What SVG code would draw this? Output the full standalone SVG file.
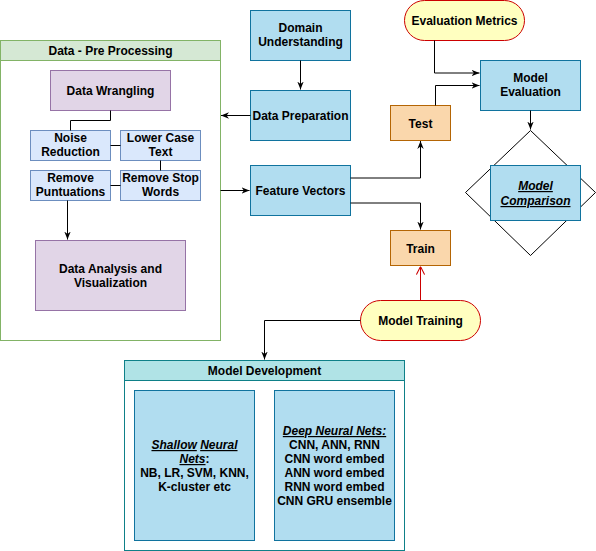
<svg xmlns="http://www.w3.org/2000/svg" width="596" height="551" viewBox="0 0 596 551">
<defs>
<style>
text{font-family:"Liberation Sans",Arial,sans-serif;font-size:12px;font-weight:bold;fill:#000;text-anchor:middle}
.blue{fill:#b1ddf0;stroke:#10739e}
.lblue{fill:#dae8fc;stroke:#6c8ebf}
.purple{fill:#e1d5e7;stroke:#9673a6}
.orange{fill:#fad7ac;stroke:#b46504}
.pill{fill:#ffffc0;stroke:#cc0000}
.edge{fill:none;stroke:#000;stroke-width:1}
.u{text-decoration:underline;font-style:italic}
</style>
<marker id="arr" viewBox="0 0 10 10" refX="10" refY="5" markerWidth="8" markerHeight="8" markerUnits="userSpaceOnUse" orient="auto">
<path d="M0,1 L10,5 L0,9 L3,5 z" fill="#000"/>
</marker>
<marker id="open" viewBox="0 0 10 10" refX="10" refY="5" markerWidth="9" markerHeight="9" markerUnits="userSpaceOnUse" orient="auto">
<path d="M1,0.5 L10,5 L1,9.5" fill="none" stroke="#cc0000" stroke-width="1.2"/>
</marker>
</defs>
<rect width="596" height="551" fill="#fff"/>

<g id="data-preprocessing">
<rect x="0.5" y="40.5" width="220" height="300" fill="#fff" stroke="#82b366"/>
<rect x="0.5" y="40.5" width="220" height="20" fill="#d5e8d4" stroke="#82b366"/>
<text x="110.5" y="55">Data - Pre Processing</text>
</g>
<g id="data-wrangling">
<rect class="purple" x="50.5" y="70.5" width="120" height="40"/>
<text x="110.5" y="95">Data Wrangling</text>
</g>
<g id="noise-reduction">
<rect class="lblue" x="30.5" y="130.5" width="80" height="30"/>
<text x="70.5" y="142">Noise</text><text x="70.5" y="156">Reduction</text>
</g>
<g id="lower-case">
<rect class="lblue" x="120.5" y="130.5" width="80" height="30"/>
<text x="160.5" y="142">Lower Case</text><text x="160.5" y="156">Text</text>
</g>
<g id="remove-punct">
<rect class="lblue" x="30.5" y="170.5" width="80" height="30"/>
<text x="70.5" y="182">Remove</text><text x="70.5" y="196">Puntuations</text>
</g>
<g id="remove-stop">
<rect class="lblue" x="120.5" y="170.5" width="80" height="30"/>
<text x="160.5" y="182">Remove Stop</text><text x="160.5" y="196">Words</text>
</g>
<g id="data-analysis">
<rect class="purple" x="35.5" y="240.5" width="150" height="70"/>
<text x="110.5" y="273">Data Analysis and</text><text x="110.5" y="287">Visualization</text>
</g>

<g id="domain-understanding">
<rect class="blue" x="250.5" y="10.5" width="100" height="50"/>
<text x="300.5" y="32">Domain</text><text x="300.5" y="46">Understanding</text>
</g>
<g id="data-preparation">
<rect class="blue" x="250.5" y="90.5" width="100" height="50"/>
<text x="300.5" y="120">Data Preparation</text>
</g>
<g id="feature-vectors">
<rect class="blue" x="250.5" y="165.5" width="100" height="50"/>
<text x="300.5" y="195">Feature Vectors</text>
</g>
<g id="test">
<rect class="orange" x="390.5" y="105.5" width="60" height="35"/>
<text x="420.5" y="128">Test</text>
</g>
<g id="train">
<rect class="orange" x="390.5" y="230.5" width="60" height="35"/>
<text x="420.5" y="253">Train</text>
</g>
<g id="evaluation-metrics">
<rect class="pill" x="404.5" y="0.5" width="120" height="40" rx="20" ry="20"/>
<text x="464.5" y="25">Evaluation Metrics</text>
</g>
<g id="model-evaluation">
<rect class="blue" x="480.5" y="60.5" width="100" height="50"/>
<text x="530.5" y="82">Model</text><text x="530.5" y="96">Evaluation</text>
</g>
<g id="model-comparison">
<path d="M530.5,130.5 L595.5,192.5 L530.5,255.5 L465.5,192.5 Z" fill="#fff" stroke="#000"/>
<rect class="blue" x="490.5" y="165.5" width="90" height="55"/>
<text x="535.5" y="190"><tspan class="u">Model</tspan></text>
<text x="535.5" y="205"><tspan class="u">Comparison</tspan></text>
</g>
<g id="model-training">
<rect class="pill" x="360.5" y="300.5" width="120" height="40" rx="20" ry="20"/>
<text x="420.5" y="325">Model Training</text>
</g>
<g id="model-development">
<rect x="124.5" y="360.5" width="280" height="190" fill="#fff" stroke="#0e8088"/>
<rect x="124.5" y="360.5" width="280" height="20" fill="#b0e3e6" stroke="#0e8088"/>
<text x="264.5" y="375">Model Development</text>
</g>
<g id="shallow-nets">
<rect class="blue" x="134.5" y="390.5" width="120" height="150"/>
<text x="194.5" y="449"><tspan class="u">Shallow</tspan> <tspan class="u">Neural</tspan></text>
<text x="194.5" y="463"><tspan class="u">Nets</tspan>:</text>
<text x="194.5" y="477">NB, LR, SVM, KNN,</text>
<text x="194.5" y="491">K-cluster etc</text>
</g>
<g id="deep-nets">
<rect class="blue" x="274.5" y="390.5" width="120" height="150"/>
<text x="334.5" y="435"><tspan class="u">Deep Neural Nets:</tspan></text>
<text x="334.5" y="449">CNN, ANN, RNN</text>
<text x="334.5" y="463">CNN word embed</text>
<text x="334.5" y="477">ANN word embed</text>
<text x="334.5" y="491">RNN word embed</text>
<text x="334.5" y="505">CNN GRU ensemble</text>
</g>

<g id="connectors">
<path class="edge" d="M110.5,110.5 V120.5 H70.5 V130.5"/>
<path class="edge" d="M110.5,145.5 H120.5"/>
<path class="edge" d="M160.5,160.5 V170.5"/>
<path class="edge" d="M120.5,185.5 H110.5"/>
<path class="edge" d="M67.5,200.5 V239.5" marker-end="url(#arr)"/>
<path class="edge" d="M300.5,60.5 V89.5" marker-end="url(#arr)"/>
<path class="edge" d="M250.5,115.5 H221" marker-end="url(#arr)"/>
<path class="edge" d="M220.5,190.5 H249.5" marker-end="url(#arr)"/>
<path class="edge" d="M350.5,178 H420.5 V141" marker-end="url(#arr)"/>
<path class="edge" d="M350.5,203 H420.5 V229.5" marker-end="url(#arr)"/>
<path class="edge" d="M434.5,40.5 V73 H479.5" marker-end="url(#arr)"/>
<path class="edge" d="M435.5,105.5 V85.5 H479.5" marker-end="url(#arr)"/>
<path class="edge" d="M530.5,110.5 V129.5" marker-end="url(#arr)"/>
<path d="M420.5,300.5 V266.5" fill="none" stroke="#cc0000" marker-end="url(#open)"/>
<path class="edge" d="M360.5,320.5 H264.5 V359.5" marker-end="url(#arr)"/>
</g>
</svg>
